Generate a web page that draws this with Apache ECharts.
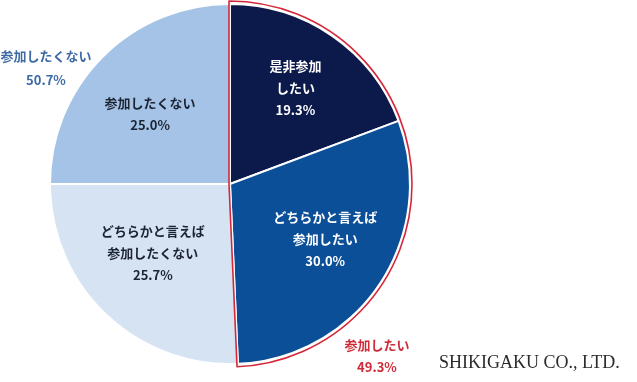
<!DOCTYPE html>
<html>
<head>
<meta charset="utf-8">
<script src="https://cdn.jsdelivr.net/npm/echarts@6/dist/echarts.min.js"></script>
<style>
html,body{margin:0;padding:0;background:#fff;}
#chart{width:637px;height:382px;}
</style>
</head>
<body>
<div id="chart"></div>
<script>
// Data
const categories = ['是非参加\nしたい', 'どちらかと言えば\n参加したい', 'どちらかと言えば\n参加したくない', '参加したくない'];
const values = [19.3, 30.0, 25.7, 25.0];
const sliceColors = ['#0c1a4b', '#0a4f98', '#d5e3f3', '#a4c3e6'];
const labelColors = ['#ffffff', '#ffffff', '#1c2333', '#1c2333'];
const groupNames = ['参加したい', '参加したくない'];
const groupValues = [49.3, 50.7];
const credit = 'SHIKIGAKU CO., LTD.';

const font = '"Noto Sans CJK JP", "Noto Sans", sans-serif';
const labelShift = [[1, -3], [1, -7], [1, -13], [0, 10]];
const chart = echarts.init(document.getElementById('chart'), null, {renderer: 'canvas'});

const mainData = categories.map((c, i) => ({
  name: c, value: values[i],
  itemStyle: {color: sliceColors[i]}
}));
const labelData = categories.map((c, i) => ({
  name: c, value: values[i],
  label: {color: labelColors[i]}
}));

chart.setOption({
  backgroundColor: '#ffffff',
  animation: false,
  series: [
    {
      type: 'pie',
      center: [230, 184],
      radius: [0, 180],
      startAngle: 90,
      clockwise: true,
      silent: true,
      label: {show: false},
      labelLine: {show: false},
      itemStyle: {borderColor: '#ffffff', borderWidth: 2},
      data: mainData,
      z: 2
    },
    {
      type: 'pie',
      center: [229, 184],
      radius: [0, 183],
      startAngle: 90,
      clockwise: true,
      silent: true,
      label: {show: false},
      labelLine: {show: false},
      data: [
        {name: groupNames[0], value: groupValues[0], itemStyle: {color: 'rgba(0,0,0,0)', borderColor: '#d4283a', borderWidth: 1.6}},
        {name: groupNames[1], value: groupValues[1], itemStyle: {color: 'rgba(0,0,0,0)', borderWidth: 0}}
      ],
      z: 3
    },
    {
      type: 'pie',
      center: [230, 184],
      radius: [40, 180],
      startAngle: 90,
      clockwise: true,
      silent: true,
      itemStyle: {color: 'rgba(0,0,0,0)', borderWidth: 0},
      label: {
        show: true,
        position: 'inside',
        fontFamily: font,
        fontSize: 13,
        fontWeight: 'bold',
        lineHeight: 22,
        align: 'center',
        formatter: p => p.name + '\n' + p.value.toFixed(1) + '%'
      },
      labelLayout: p => ({dx: labelShift[p.dataIndex][0], dy: labelShift[p.dataIndex][1]}),
      labelLine: {show: false},
      data: labelData,
      z: 4
    }
  ],
  graphic: [
    {
      type: 'text',
      x: 46, y: 44,
      style: {
        text: groupNames[1] + '\n' + groupValues[1].toFixed(1) + '%',
        fill: '#3d6aa5',
        font: 'bold 13px ' + font,
        lineHeight: 24,
        align: 'center',
        verticalAlign: 'top'
      },
      z: 10
    },
    {
      type: 'text',
      x: 377, y: 334,
      style: {
        text: groupNames[0] + '\n' + groupValues[0].toFixed(1) + '%',
        fill: '#cf2a38',
        font: 'bold 13px ' + font,
        lineHeight: 22,
        align: 'center',
        verticalAlign: 'top'
      },
      z: 10
    },
    {
      type: 'text',
      x: 439, y: 354,
      style: {
        text: credit,
        fill: '#2b2b2b',
        font: '18px "Liberation Serif", "DejaVu Serif", serif',
        verticalAlign: 'top'
      },
      z: 10
    }
  ]
});
</script>
</body>
</html>
